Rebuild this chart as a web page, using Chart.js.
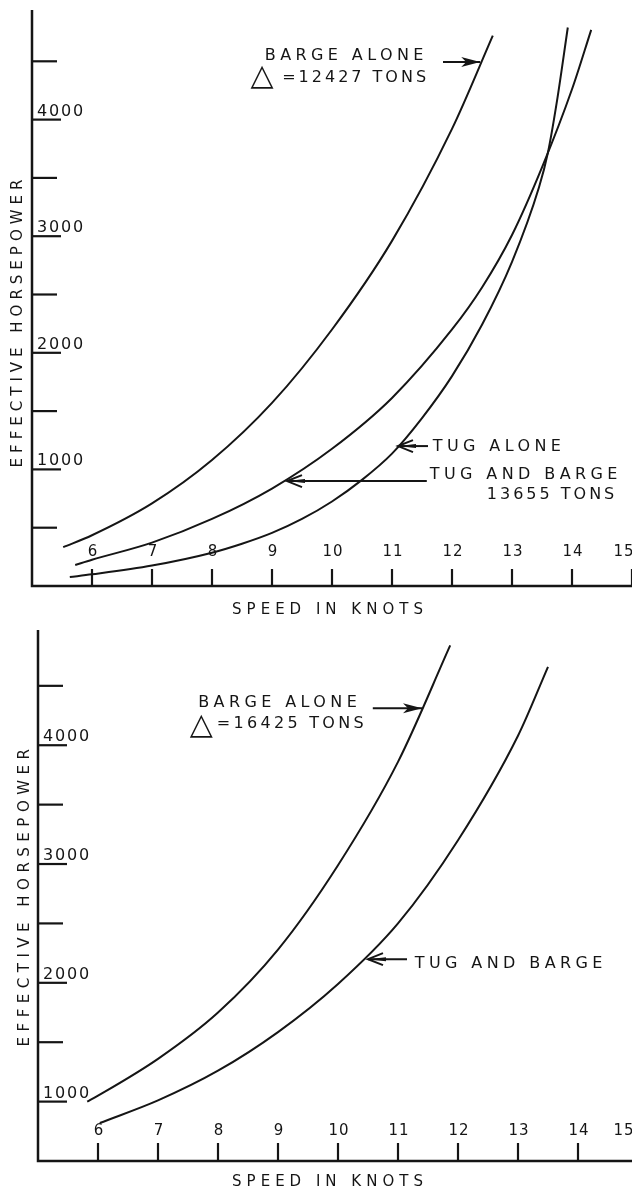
<!DOCTYPE html>
<html>
<head>
<meta charset="utf-8">
<script src="https://cdn.jsdelivr.net/npm/chart.js@4.4.1/dist/chart.umd.min.js"></script>
<style>
    body { margin: 0; background: #fff; width: 632px; overflow: hidden; }
    canvas { display: block; }
</style>
</head>
<body>
<canvas id="chartA" width="632" height="620"></canvas>
<canvas id="chartB" width="632" height="570"></canvas>
<script>
// ---- Upper chart: barge of 12427 tons ----
const speedBargeA = [5.52, 6, 7, 8, 9, 10, 11, 12, 12.68];
const hpBargeA = [333, 435, 708, 1080, 1570, 2200, 2960, 3920, 4720];
const speedTugBargeA = [5.72, 6, 7, 8, 9, 10, 11, 12, 12.5, 13, 13.5, 14, 14.32];
const hpTugBargeA = [180, 225, 372, 575, 836, 1177, 1613, 2200, 2560, 3010, 3590, 4260, 4770];
const speedTugA = [5.63, 6, 7, 8, 8.5, 9, 9.5, 10, 10.5, 11, 11.5, 12, 12.5, 13, 13.45, 13.6, 13.75, 13.93];
const hpTugA = [77, 100, 175, 285, 362, 455, 575, 725, 910, 1135, 1440, 1800, 2240, 2780, 3420, 3720, 4160, 4790];

// ---- Lower chart: barge of 16425 tons ----
const speedBargeB = [5.82, 6, 7, 8, 9, 10, 11, 11.87];
const hpBargeB = [1000, 1050, 1360, 1750, 2280, 2990, 3860, 4840];
const speedTugBargeB = [6.03, 7, 8, 9, 10, 11, 12, 13, 13.5];
const hpTugBargeB = [820, 1010, 1260, 1585, 1990, 2500, 3200, 4080, 4660];

// ---- Axes ----
const speedTicks = [6, 7, 8, 9, 10, 11, 12, 13, 14, 15];
const hpTicksA = [500, 1000, 1500, 2000, 2500, 3000, 3500, 4000, 4500];
const hpTicksB = [1000, 1500, 2000, 2500, 3000, 3500, 4000, 4500];
const hpLabels = [1000, 2000, 3000, 4000];

const INK = '#151515';
const FONT = '"DejaVu Sans", "Liberation Sans", sans-serif';

function setSpacing(ctx, px) {
    if ('letterSpacing' in ctx) ctx.letterSpacing = px + 'px';
}

function drawText(ctx, str, x, y, size, spacing, align) {
    ctx.font = size + 'px ' + FONT;
    setSpacing(ctx, spacing);
    ctx.textAlign = align || 'left';
    ctx.fillText(str, x, y);
}

function arrowHead(ctx, tipX, tipY, dir, kind) {
    // dir: +1 points right, -1 points left
    const b = -dir;
    ctx.beginPath();
    if (kind === 'filled') {
        ctx.moveTo(tipX, tipY);
        ctx.lineTo(tipX + b * 19, tipY - 5);
        ctx.lineTo(tipX + b * 14, tipY);
        ctx.lineTo(tipX + b * 19, tipY + 5);
        ctx.closePath();
        ctx.fill();
    } else {
        ctx.moveTo(tipX + b * 15, tipY - 6);
        ctx.lineTo(tipX, tipY);
        ctx.lineTo(tipX + b * 15, tipY + 6);
        ctx.stroke();
        ctx.beginPath();
        ctx.moveTo(tipX, tipY);
        ctx.lineTo(tipX + b * 18, tipY - 2);
        ctx.lineTo(tipX + b * 18, tipY + 2);
        ctx.closePath();
        ctx.fill();
    }
}

const paperAxes = {
    id: 'paperAxes',
    afterDatasetsDraw(chart, args, opts) {
        const ctx = chart.ctx;
        const xs = chart.scales.x, ys = chart.scales.y;
        const area = chart.chartArea;
        ctx.save();
        ctx.strokeStyle = INK;
        ctx.fillStyle = INK;
        ctx.lineCap = 'butt';

        // axis lines
        ctx.lineWidth = 2.5;
        ctx.beginPath();
        ctx.moveTo(area.left, area.top);
        ctx.lineTo(area.left, area.bottom);
        ctx.lineTo(chart.width, area.bottom);
        ctx.stroke();

        // speed ticks, pointing up into the plot, labels above them
        ctx.lineWidth = 2.2;
        ctx.textBaseline = 'middle';
        speedTicks.forEach(v => {
            const px = xs.getPixelForValue(v);
            ctx.beginPath();
            ctx.moveTo(px, area.bottom);
            ctx.lineTo(px, area.bottom - opts.xTickLen);
            ctx.stroke();
            // keep the last label partly in view, as on the drawing
            const lx = Math.min(px + 1, chart.width - 8);
            drawText(ctx, String(v), lx, area.bottom - opts.xLabelGap, 15, 1, 'center');
        });

        // horsepower ticks, pointing right, labels sit on the tick
        ctx.textBaseline = 'alphabetic';
        opts.yTicks.forEach(v => {
            const py = ys.getPixelForValue(v);
            const major = hpLabels.includes(v);
            ctx.beginPath();
            ctx.moveTo(area.left, py);
            ctx.lineTo(area.left + (major ? 29 : 25), py);
            ctx.stroke();
            if (major) drawText(ctx, String(v), area.left + 5, py - 4, 16, 1.8, 'left');
        });

        // axis titles
        ctx.textBaseline = 'middle';
        drawText(ctx, 'SPEED IN KNOTS', opts.xTitle[0], opts.xTitle[1], 15, 5, 'center');
        ctx.save();
        ctx.translate(opts.yTitle[0], opts.yTitle[1]);
        ctx.rotate(-Math.PI / 2);
        drawText(ctx, 'EFFECTIVE HORSEPOWER', 0, 0, 15, opts.yTitleSpacing, 'center');
        ctx.restore();

        // curve call-outs, anchored in data units
        ctx.textBaseline = 'alphabetic';
        ctx.lineWidth = 2;
        opts.notes.forEach(n => {
            if (n.tail) {
                const tx = xs.getPixelForValue(n.tail[0]);
                const hx = xs.getPixelForValue(n.tip[0]);
                const y = ys.getPixelForValue(n.tip[1]);
                ctx.beginPath();
                ctx.moveTo(tx, y);
                ctx.lineTo(hx, y);
                ctx.stroke();
                arrowHead(ctx, hx, y, hx > tx ? 1 : -1, n.head);
            }
            (n.texts || []).forEach(t => {
                drawText(ctx, t.s, xs.getPixelForValue(t.at[0]), ys.getPixelForValue(t.at[1]),
                    t.size || 16, t.sp === undefined ? 4.4 : t.sp, 'left');
            });
        });
        ctx.restore();
    }
};

function curve(xs, ys) {
    return {
        data: xs.map((x, i) => ({ x: x, y: ys[i] })),
        showLine: true,
        borderColor: INK,
        borderWidth: 2,
        pointRadius: 0,
        fill: false,
        cubicInterpolationMode: 'monotone'
    };
}

function makeChart(id, cfg) {
    return new Chart(document.getElementById(id), {
        type: 'scatter',
        data: { datasets: cfg.datasets },
        options: {
            responsive: false,
            animation: false,
            devicePixelRatio: 1,
            layout: { padding: cfg.padding },
            plugins: {
                legend: { display: false },
                tooltip: { enabled: false },
                paperAxes: cfg.axes
            },
            scales: {
                x: { type: 'linear', min: cfg.xRange[0], max: cfg.xRange[1], display: false },
                y: { type: 'linear', min: cfg.yRange[0], max: cfg.yRange[1], display: false }
            }
        },
        plugins: [paperAxes]
    });
}

document.addEventListener('DOMContentLoaded', function() {
    makeChart('chartA', {
        datasets: [
            curve(speedBargeA, hpBargeA),
            curve(speedTugBargeA, hpTugBargeA),
            curve(speedTugA, hpTugA)
        ],
        padding: { left: 32, right: 0, top: 10, bottom: 34 },
        xRange: [5, 15],
        yRange: [0, 4940],
        axes: {
            yTicks: hpTicksA,
            xTickLen: 17,
            xLabelGap: 34,
            xTitle: [330, 610],
            yTitle: [18, 321],
            yTitleSpacing: 5,
            notes: [
                { tip: [12.47, 4494], tail: [11.85, 4494], head: 'filled',
                  texts: [
                      { s: 'BARGE ALONE', at: [8.88, 4511] },
                      { s: '\u25B3', at: [8.64, 4300], size: 30, sp: 0 },
                      { s: '=12427 TONS', at: [9.17, 4323], sp: 3 }
                  ] },
                { tip: [11.1, 1200], tail: [11.6, 1200], head: 'open',
                  texts: [{ s: 'TUG ALONE', at: [11.68, 1158] }] },
                { tip: [9.25, 900], tail: [11.58, 900], head: 'open',
                  texts: [
                      { s: 'TUG AND BARGE', at: [11.63, 918] },
                      { s: '13655 TONS', at: [12.58, 746], sp: 3 }
                  ] }
            ]
        }
    });

    makeChart('chartB', {
        datasets: [
            curve(speedBargeB, hpBargeB),
            curve(speedTugBargeB, hpTugBargeB)
        ],
        padding: { left: 38, right: 0, top: 10, bottom: 29 },
        xRange: [5, 14.9],
        yRange: [500, 4970],
        axes: {
            yTicks: hpTicksB,
            xTickLen: 18,
            xLabelGap: 30,
            xTitle: [330, 562],
            yTitle: [25, 275],
            yTitleSpacing: 5.5,
            notes: [
                { tip: [11.4, 4311], tail: [10.58, 4311], head: 'filled',
                  texts: [
                      { s: 'BARGE ALONE', at: [7.67, 4320] },
                      { s: '\u25B3', at: [7.53, 4095], size: 30, sp: 0 },
                      { s: '=16425 TONS', at: [7.98, 4143], sp: 3.3 }
                  ] },
                { tip: [10.5, 2199], tail: [11.15, 2199], head: 'open',
                  texts: [{ s: 'TUG AND BARGE', at: [11.28, 2124] }] }
            ]
        }
    });
});
</script>
</body>
</html>
